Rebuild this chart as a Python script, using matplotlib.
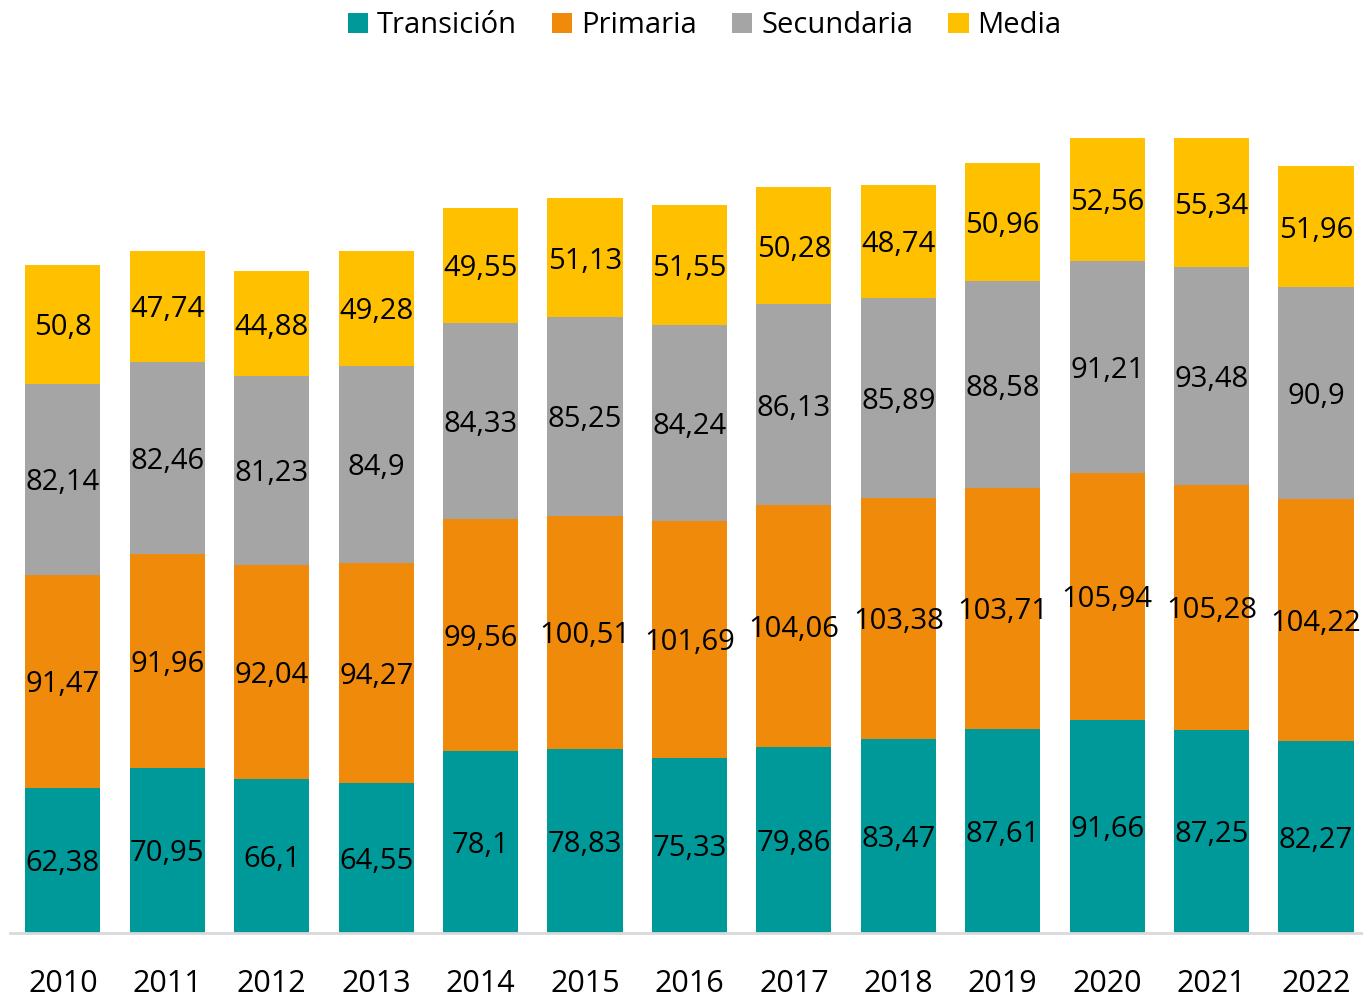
import matplotlib.pyplot as plt
import numpy as np

years = ['2010', '2011', '2012', '2013', '2014', '2015', '2016',
         '2017', '2018', '2019', '2020', '2021', '2022']
transicion = [62.38, 70.95, 66.1, 64.55, 78.1, 78.83, 75.33, 79.86, 83.47, 87.61, 91.66, 87.25, 82.27]
primaria = [91.47, 91.96, 92.04, 94.27, 99.56, 100.51, 101.69, 104.06, 103.38, 103.71, 105.94, 105.28, 104.22]
secundaria = [82.14, 82.46, 81.23, 84.9, 84.33, 85.25, 84.24, 86.13, 85.89, 88.58, 91.21, 93.48, 90.9]
media = [50.8, 47.74, 44.88, 49.28, 49.55, 51.13, 51.55, 50.28, 48.74, 50.96, 52.56, 55.34, 51.96]

series = [('Transición', transicion, '#009999'),
          ('Primaria', primaria, '#EF8A0A'),
          ('Secundaria', secundaria, '#A5A5A5'),
          ('Media', media, '#FFC000')]

plt.rcParams['font.family'] = ['Open Sans', 'DejaVu Sans']

fig = plt.figure(figsize=(13.63, 9.97), dpi=100)
ax = fig.add_axes([0.0073, 0.0642, 0.9927, 0.8756])

x = np.arange(len(years))
bottom = np.zeros(len(years))
for name, vals, col in series:
    vals = np.array(vals)
    ax.bar(x, vals, 0.72, bottom=bottom, color=col, label=name)
    for xi, b, v in zip(x, bottom, vals):
        ax.text(xi, b + v / 2 - 1.5, f'{v:g}'.replace('.', ','), ha='center', va='center',
                fontsize=21, color='black')
    bottom += vals

ax.set_xlim(-0.507, 12.45)
ax.set_ylim(0, 375)
ax.set_xticks(x)
ax.set_xticklabels(years, fontsize=22)
ax.tick_params(axis='x', length=0, pad=26)
ax.set_yticks([])
for s in ['top', 'right', 'left']:
    ax.spines[s].set_visible(False)
ax.spines['bottom'].set_color('#D9D9D9')
ax.spines['bottom'].set_linewidth(2)

fig.legend(loc='upper center', bbox_to_anchor=(0.517, 1.015), ncol=4, frameon=False,
           fontsize=21, handlelength=0.7, handleheight=0.7, handletextpad=0.3,
           columnspacing=1.2)

fig.savefig('out.png', dpi=100)
